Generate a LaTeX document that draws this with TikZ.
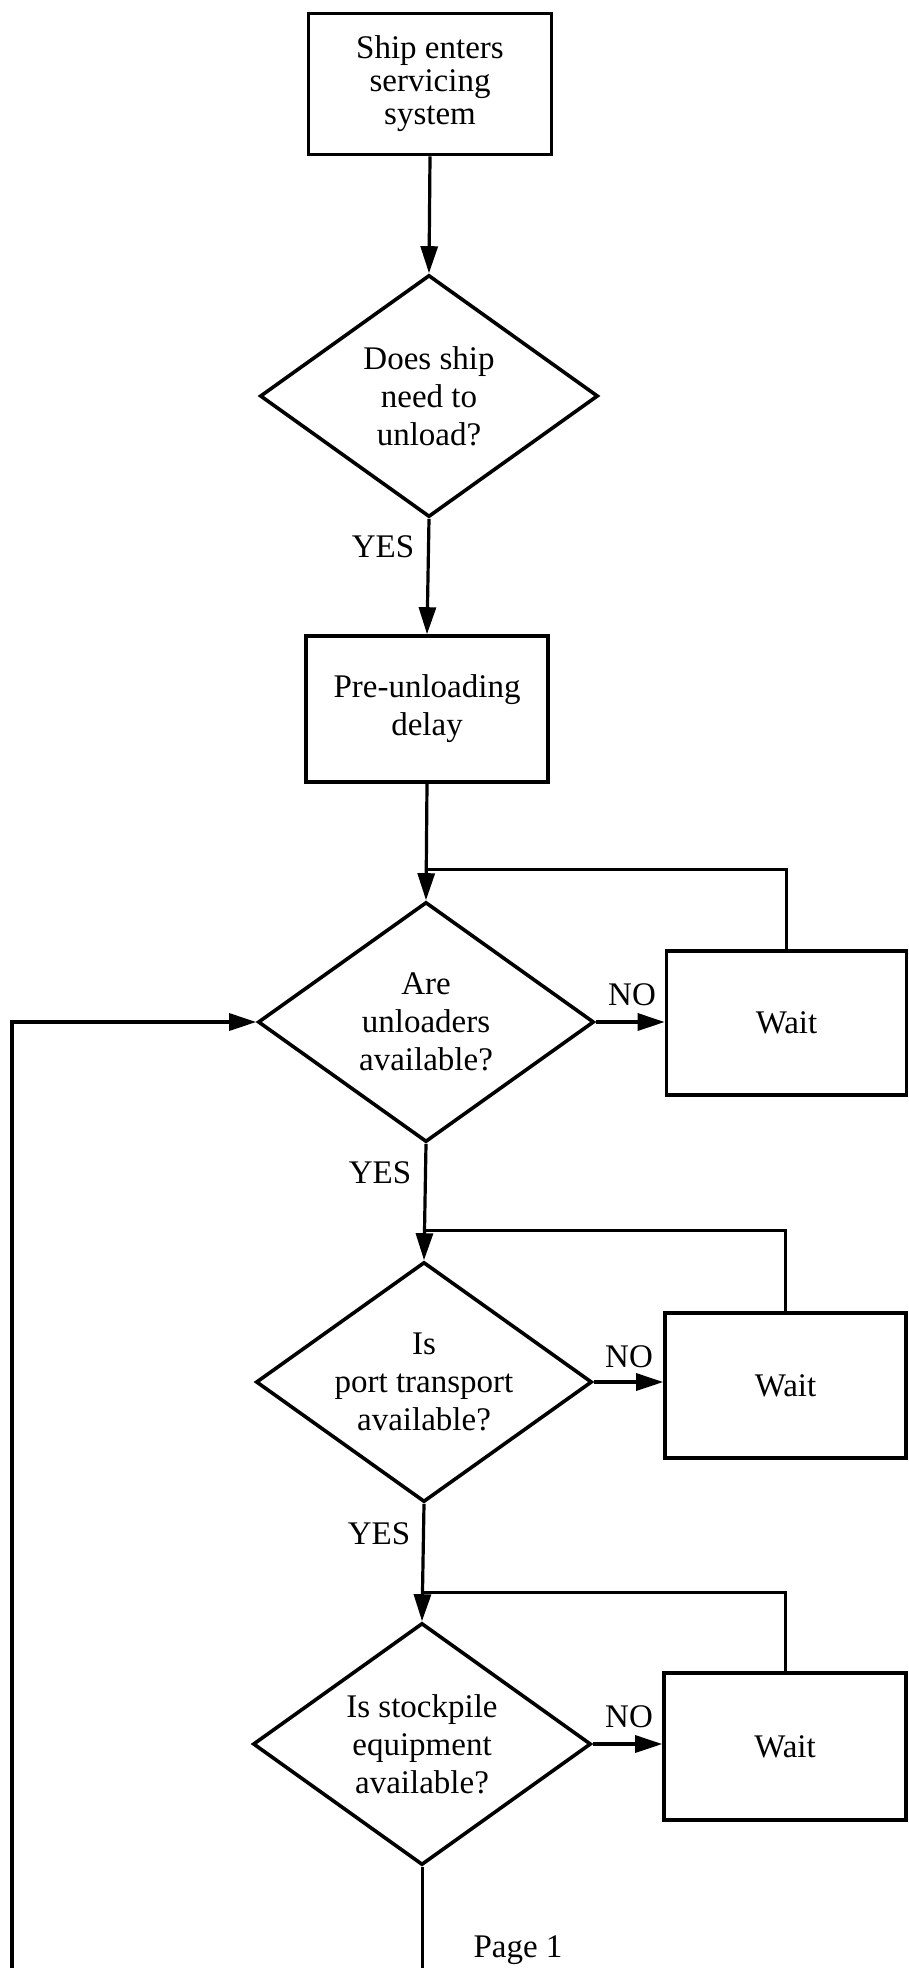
\documentclass[tikz,border=0pt]{standalone}
\usepackage{fontspec}
\setmainfont{Liberation Serif}
\usetikzlibrary{shapes.geometric,arrows.meta}
\begin{document}
\begin{tikzpicture}[x=1pt,y=-1pt,
  every node/.style={font=\fontsize{33}{38}\selectfont},
  procbox/.style={draw, line width=3.6pt, rectangle, inner sep=0pt, align=center},
  decision/.style={draw, line width=3.6pt, diamond, aspect=1.4, inner sep=0pt, align=center},
  flow/.style={line width=3.2pt, -{Triangle[length=27pt,width=17pt]}},
  link/.style={line width=3pt},
  lbl/.style={inner sep=0pt}]
\useasboundingbox (0,0) rectangle (909,1968);

% main column of steps and decisions
\node[procbox, minimum width=243pt, minimum height=141pt, font=\fontsize{33}{33}\selectfont] (b1) at (430,84) {Ship enters\\servicing\\system};
\node[decision, minimum width=338pt, minimum height=242pt] (d1) at (429,396) {Does ship\\need to\\unload?};
\node[procbox, minimum width=242pt, minimum height=146pt] (b2) at (427,709) {Pre-unloading\\delay};
\node[decision, minimum width=336pt, minimum height=240pt] (d2) at (426,1022) {Are\\unloaders\\available?};
\node[decision, minimum width=336pt, minimum height=240pt] (d3) at (424,1382) {Is\\port transport\\available?};
\node[decision, minimum width=338pt, minimum height=242pt] (d4) at (422,1744) {Is stockpile\\equipment\\available?};

% waiting boxes on the right
\node[procbox, minimum width=240pt, minimum height=144pt] (w1) at (786.5,1023) {Wait};
\node[procbox, minimum width=241pt, minimum height=145pt] (w2) at (785.5,1385.5) {Wait};
\node[procbox, minimum width=242pt, minimum height=147pt] (w3) at (785,1746.5) {Wait};

% branch labels
\node[lbl] (yes1) at (383,547) {YES};
\node[lbl] (yes2) at (380,1173) {YES};
\node[lbl] (yes3) at (379,1534) {YES};
\node[lbl] (no1) at (632,995) {NO};
\node[lbl] (no2) at (629,1357) {NO};
\node[lbl] (no3) at (629,1717) {NO};
\node[lbl] (pg) at (518,1950) {Page 1};

% junction points
\coordinate (j1) at (426,869);
\coordinate (j2) at (424,1230);
\coordinate (j3) at (422,1592);
\coordinate (lb) at (12,1968);
\coordinate (bot) at (422,1968);

% connectors
\draw[flow] (b1.south) -- (d1.north);
\draw[flow] (d1.south) -- (b2.north);
\draw[flow] (b2.south) -- (d2.north);
\draw[link] (w1.north) |- (j1);
\draw[flow] (d2.east) -- (d2.east -| w1.west);
\draw[flow] (d2.south) -- (d3.north);
\draw[link] (w2.north) |- (j2);
\draw[flow] (d3.east) -- (d3.east -| w2.west);
\draw[flow] (d3.south) -- (d4.north);
\draw[link] (w3.north) |- (j3);
\draw[flow] (d4.east) -- (d4.east -| w3.west);
\draw[link] (d4.south) -- (bot);
\draw[flow] (lb) |- (d2.west);
\end{tikzpicture}
\end{document}
